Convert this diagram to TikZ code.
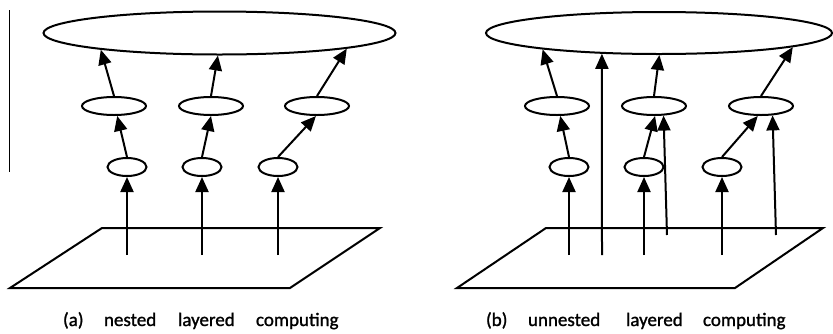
\documentclass[tikz,border=0pt]{standalone}
\usepackage{fontspec}
\setmainfont{Carlito}[FakeBold=1.2]
\usetikzlibrary{shapes.geometric,arrows.meta}

\begin{document}
\begin{tikzpicture}[
  x=1pt, y=-1pt,
  line width=2pt,
  layer/.style={draw, ellipse, inner sep=0pt, line width=2pt},
  topell/.style={layer, minimum width=352pt, minimum height=43pt},
  midell/.style={layer, minimum width=64pt, minimum height=18pt},
  lowell/.style={layer, minimum width=39pt, minimum height=18pt},
  up/.style={-{Triangle[length=15pt, width=13pt]}, line width=2pt},
  captxt/.style={anchor=base west, inner sep=0pt, font=\fontsize{19}{22}\selectfont}
]
\useasboundingbox (0,0) rectangle (833,333);
\draw[line width=1.5pt] (9.5,10) -- (9.5,172);
% planes
\draw (102,228) -- (380,228) -- (290,288) -- (10,288) -- cycle;
\draw (546,228) -- (823,228) -- (735,288) -- (457,288) -- cycle;
% layers
\node[topell] (topA) at (219.5,33) {};
\node[topell, minimum width=346pt, minimum height=42pt] (topB) at (659,33) {};
\foreach \n/\x in {a1/114, a2/211, a3/317, b1/557, b2/654, b3/761}
  \node[midell] (m\n) at (\x,106) {};
\foreach \n/\x in {a1/127, a2/202, a3/278, b1/569, b2/644, b3/722}{
  \node[lowell] (s\n) at (\x,167) {};
  \coordinate (g\n) at (s\n |- 0,255);
  \draw[up] (g\n) -- (s\n.south);
}
% low -> mid
\foreach \n/\a in {a1/-72, a2/-90, a3/-96, b1/-72, b2/-84, b3/-108}
  \draw[up] (s\n.north) -- (m\n.\a);
% mid -> top
\foreach \n/\a in {a1/-172.7, a2/-94, a3/-7.1}
  \draw[up] (m\n.north) -- (topA.\a);
\foreach \n/\a in {b1/-172.9, b2/-89, b3/-6.3}
  \draw[up] (m\n.north) -- (topB.\a);
% unnested shortcuts
\coordinate (gl) at (602,255);
\draw[up] (gl) -- (topB.-160.8);
\coordinate (xb2) at (667,235);
\draw[up] (xb2) -- (mb2.-45);
\coordinate (xb3) at (776,235);
\draw[up] (xb3) -- (mb3.-39);
% captions
\foreach \w/\x [count=\k] in {{(a)}/62, nested/103, layered/177, computing/255,
  {(b)}/485, unnested/527, layered/625, computing/702}
  \node[captxt] (w\k) at (\x,326) {\w};
\end{tikzpicture}
\end{document}
